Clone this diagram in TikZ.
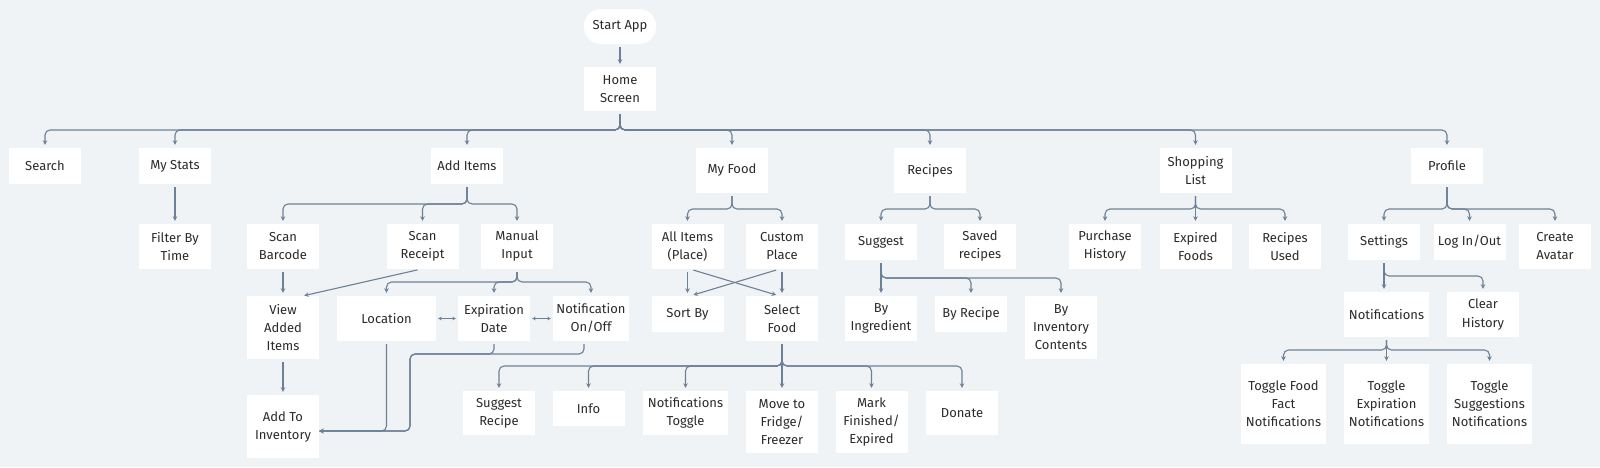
\documentclass[tikz,border=0pt]{standalone}
\usepackage{fontspec}
\setmainfont{Fira Sans}
\usetikzlibrary{arrows.meta}
\definecolor{bgcol}{HTML}{F0F3F6}
\definecolor{linecol}{HTML}{6C8096}
\definecolor{txtcol}{HTML}{2B2B2B}

\begin{document}
\begin{tikzpicture}[x=1pt,y=-1pt,
        box/.style={fill=white,text=txtcol,align=center,inner sep=0pt,minimum width=72pt,minimum height=45pt,font=\fontsize{13}{18}\selectfont},
        link/.style={draw=linecol,line width=1.1pt,rounded corners=5pt,-{Stealth[length=4.5pt,width=4.5pt]},shorten >=3pt,shorten <=3pt}]
        \fill[bgcol] (0,0) rectangle (1600,467);
        \useasboundingbox (0,0) rectangle (1600,467);

        % Top.
        \node[box,minimum height=35pt,rounded corners=17pt] (start) at (620,26.5) {Start App};
        \node[box,minimum height=44pt] (home) at (620,89) {Home\\Screen};

        \node[box,minimum height=36pt] (search) at (45,166) {Search};
        \node[box,minimum height=36pt] (mystats) at (175,166) {My Stats};
        \node[box,minimum height=36pt] (additems) at (467,166) {Add Items};
        \node[box] (myfood) at (732,170.5) {My Food};
        \node[box] (recipes) at (930,170.5) {Recipes};
        \node[box] (shopping) at (1195.5,170.5) {Shopping\\List};
        \node[box,minimum height=36pt] (profile) at (1447,166) {Profile};

        % Second row.
        \node[box] (filter) at (175,246.5) {Filter By\\Time};
        \node[box] (scanbar) at (283,246.5) {Scan\\Barcode};
        \node[box] (scanrec) at (422.5,246.5) {Scan\\Receipt};
        \node[box] (manual) at (517,246.5) {Manual\\Input};
        \node[box] (allitems) at (687.5,246.5) {All Items\\(Place)};
        \node[box] (custom) at (782,246.5) {Custom\\Place};
        \node[box,minimum height=36pt] (suggest) at (881,242) {Suggest};
        \node[box] (saved) at (980,246.5) {Saved\\recipes};
        \node[box] (purchase) at (1105,246.5) {Purchase\\History};
        \node[box] (expired) at (1195.5,246.5) {Expired\\Foods};
        \node[box] (used) at (1285,246.5) {Recipes\\Used};
        \node[box,minimum height=36pt] (settings) at (1384,242) {Settings};
        \node[box,minimum height=36pt] (login) at (1469.5,242) {Log In/Out};
        \node[box] (avatar) at (1555,246.5) {Create\\Avatar};

        % Third row.
        \node[box,minimum height=63pt] (view) at (283,327.5) {View\\Added\\Items};
        \node[box,minimum width=99pt] (location) at (386.5,318.5) {Location};
        \node[box] (expdate) at (494,318.5) {Expiration\\Date};
        \node[box,minimum width=76pt] (notif) at (591,318.5) {Notification\\On/Off};
        \node[box,minimum height=36pt] (sortby) at (687.5,314) {Sort By};
        \node[box] (select) at (782,318.5) {Select\\Food};
        \node[box] (bying) at (881,318.5) {By\\Ingredient};
        \node[box,minimum height=36pt] (byrec) at (971,314) {By Recipe};
        \node[box,minimum height=63pt] (byinv) at (1061,327.5) {By\\Inventory\\Contents};
        \node[box,minimum width=85pt] (notifs) at (1386.5,314.5) {Notifications};
        \node[box] (clear) at (1483,314.5) {Clear\\History};

        % Bottom row.
        \node[box,minimum height=63pt] (addinv) at (283,426.5) {Add To\\Inventory};
        \node[box,minimum height=44pt] (sugrec) at (499,413) {Suggest\\Recipe};
        \node[box,minimum height=35pt] (info) at (588.5,408.5) {Info};
        \node[box,minimum width=85pt,minimum height=44pt] (ntoggle) at (685.5,413) {Notifications\\Toggle};
        \node[box,minimum height=62pt] (move) at (782,422) {Move to\\Fridge/\\Freezer};
        \node[box,minimum height=62pt] (mark) at (871.5,422) {Mark\\Finished/\\Expired};
        \node[box,minimum height=44pt] (donate) at (962,413) {Donate};
        \node[box,minimum width=85pt,minimum height=80pt] (tfood) at (1283.5,404) {Toggle Food\\Fact\\Notifications};
        \node[box,minimum width=85pt,minimum height=80pt] (texp) at (1386.5,404) {Toggle\\Expiration\\Notifications};
        \node[box,minimum width=85pt,minimum height=80pt] (tsug) at (1489.5,404) {Toggle\\Suggestions\\Notifications};

        % Bus heights.
        \coordinate (bHome) at (0,130);
        \coordinate (bAdd) at (0,204);
        \coordinate (bFood) at (0,209);
        \coordinate (bManual) at (0,282);
        \coordinate (bSuggest) at (0,278);
        \coordinate (bSettings) at (0,276);
        \coordinate (bNotifs) at (0,350);
        \coordinate (bSelect) at (0,366);
        \coordinate (bendA) at (410,354);
        \coordinate (invIn) at (319,431);

        \draw[link] (start) -- (home);
        \foreach \c in {search,mystats,additems,myfood,recipes,shopping,profile}
            \draw[link] (home.south) |- (\c.north |- bHome) -- (\c.north);
        \draw[link] (mystats) -- (filter);
        \foreach \c in {scanbar,scanrec,manual}
            \draw[link] (additems.south) |- (\c.north |- bAdd) -- (\c.north);
        \foreach \p/\c in {myfood/allitems,myfood/custom,recipes/suggest,recipes/saved,shopping/purchase,shopping/used,profile/settings,profile/login,profile/avatar}
            \draw[link] (\p.south) |- (\c.north |- bFood) -- (\c.north);
        \draw[link] (shopping) -- (expired);

        % Add items side.
        \draw[link] (scanbar) -- (view);
        \draw[link] (view) -- (addinv);
        \draw[link,shorten >=1pt] ([xshift=-2pt]scanrec.south) -- ([xshift=-16pt]view.north east);
        \foreach \c in {location,expdate,notif}
            \draw[link] (manual.south) |- (\c.north |- bManual) -- (\c.north);
        \draw[link,{Stealth[length=3.5pt,width=3.5pt]}-{Stealth[length=3.5pt,width=3.5pt]},shorten <=2pt,shorten >=2pt] (location) -- (expdate);
        \draw[link,{Stealth[length=3.5pt,width=3.5pt]}-{Stealth[length=3.5pt,width=3.5pt]},shorten <=2pt,shorten >=2pt] (expdate) -- (notif);
        \draw[link,shorten >=0pt] (location.south) |- (invIn);
        \draw[link,shorten >=0pt] (expdate.south) |- (bendA) |- (invIn);
        \draw[link,shorten >=0pt] ([xshift=-7pt]notif.south) |- (bendA) |- (invIn);

        % My food side.
        \draw[link] (allitems) -- (sortby);
        \draw[link] (custom) -- (select);
        \draw[link] ([xshift=3pt]allitems.south) -- ([xshift=-3pt]select.north);
        \draw[link] ([xshift=-3pt]custom.south) -- ([xshift=3pt]sortby.north);
        \draw[link] (select) -- (move);
        \foreach \c in {sugrec,info,ntoggle,mark,donate}
            \draw[link] (select.south) |- (\c.north |- bSelect) -- (\c.north);

        % Recipes side.
        \draw[link] (suggest) -- (bying);
        \foreach \c in {byrec,byinv}
            \draw[link] (suggest.south) |- (\c.north |- bSuggest) -- (\c.north);

        % Profile side.
        \draw[link] (settings.south) -- (settings.south |- notifs.north);
        \draw[link] (settings.south) |- (clear.north |- bSettings) -- (clear.north);
        \draw[link] (notifs) -- (texp);
        \foreach \c in {tfood,tsug}
            \draw[link] (notifs.south) |- (\c.north |- bNotifs) -- (\c.north);
    \end{tikzpicture}
\end{document}
